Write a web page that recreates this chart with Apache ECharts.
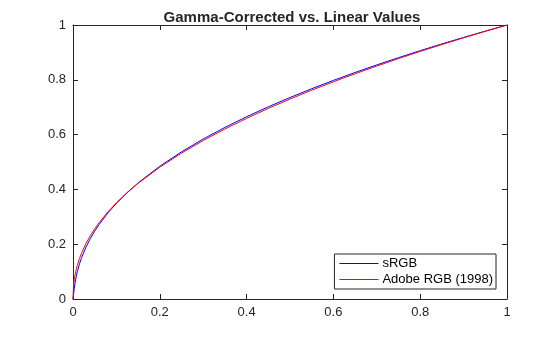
<!DOCTYPE html>
<html>
<head>
<meta charset="utf-8">
<script src="https://cdn.jsdelivr.net/npm/echarts@6/dist/echarts.min.js"></script>
<style>
html,body{margin:0;padding:0;background:#fff;}
#chart{width:560px;height:337px;}
</style>
</head>
<body>
<div id="chart"></div>
<script>
// Linear input values
var linearValues = [0, 0.001, 0.002, 0.003, 0.005, 0.0075, 0.01, 0.015, 0.02, 0.03, 0.04, 0.05, 0.06, 0.08, 0.1, 0.125, 0.15, 0.2, 0.25, 0.3, 0.35, 0.4, 0.45, 0.5, 0.55, 0.6, 0.65, 0.7, 0.75, 0.8, 0.85, 0.9, 0.95, 1];
// Gamma-corrected output, sRGB
var srgbValues = [0, 0.0129, 0.0258, 0.0388, 0.0611, 0.0824, 0.0999, 0.1284, 0.1517, 0.1897, 0.2209, 0.2478, 0.2717, 0.3133, 0.3492, 0.3886, 0.4236, 0.4845, 0.5371, 0.5838, 0.6262, 0.6652, 0.7014, 0.7354, 0.7674, 0.7978, 0.8267, 0.8543, 0.8808, 0.9063, 0.9309, 0.9546, 0.9777, 1];
// Gamma-corrected output, Adobe RGB (1998)
var adobeValues = [0, 0.0433, 0.0593, 0.0713, 0.0900, 0.1082, 0.1233, 0.1482, 0.1690, 0.2031, 0.2315, 0.2562, 0.2784, 0.3173, 0.3511, 0.3886, 0.4222, 0.4812, 0.5325, 0.5785, 0.6205, 0.6594, 0.6956, 0.7297, 0.7621, 0.7928, 0.8222, 0.8503, 0.8774, 0.9036, 0.9288, 0.9532, 0.9770, 1];
var xTicks = [0, 0.2, 0.4, 0.6, 0.8, 1];
var yTicks = [0, 0.2, 0.4, 0.6, 0.8, 1];

function pairs(xs, ys) {
  return xs.map(function (x, i) { return [x, ys[i]]; });
}
function tickLabel(v) {
  return String(Math.round(v * 10) / 10);
}

var font = 'Liberation Sans, Arial, Helvetica, sans-serif';
var axisLineStyle = { color: '#262626', width: 1 };

function mainAxis(pos, ticks) {
  return {
    type: 'value', position: pos, min: ticks[0], max: ticks[ticks.length - 1], interval: 0.2,
    axisLine: { show: true, onZero: false, lineStyle: axisLineStyle },
    axisTick: { show: true, inside: true, length: 5, lineStyle: axisLineStyle },
    axisLabel: { show: true, color: '#262626', fontSize: 13, fontFamily: font, margin: 7, formatter: tickLabel },
    splitLine: { show: false }
  };
}
function mirrorAxis(pos) {
  return {
    type: 'value', position: pos, min: 0, max: 1, interval: 0.2,
    axisLine: { show: true, onZero: false, lineStyle: axisLineStyle },
    axisTick: { show: true, inside: true, length: 5, lineStyle: axisLineStyle },
    axisLabel: { show: false },
    splitLine: { show: false }
  };
}

var chart = echarts.init(document.getElementById('chart'), null, { renderer: 'canvas' });
chart.setOption({
  animation: false,
  backgroundColor: '#ffffff',
  title: {
    text: 'Gamma-Corrected vs. Linear Values',
    left: 287, top: 5, textAlign: 'center',
    textStyle: { fontFamily: font, fontSize: 15, fontWeight: 'bold', color: '#262626' }
  },
  grid: { left: 73, right: 53, top: 25, bottom: 38, containLabel: false },
  xAxis: [mainAxis('bottom', xTicks), mirrorAxis('top')],
  yAxis: [mainAxis('left', yTicks), mirrorAxis('right')],
  legend: {
    orient: 'vertical',
    right: 64, bottom: 48,
    backgroundColor: '#ffffff',
    borderColor: '#262626', borderWidth: 1, borderRadius: 0,
    padding: [2, 3, 2, 5],
    itemGap: 1,
    itemWidth: 39, itemHeight: 1,
    icon: 'rect',
    textStyle: { fontFamily: font, fontSize: 13, color: '#000', padding: [0, 0, 0, -1], lineHeight: 15 },
    data: ['sRGB', 'Adobe RGB (1998)']
  },
  series: [
    {
      name: 'sRGB', type: 'line', xAxisIndex: 0, yAxisIndex: 0,
      data: pairs(linearValues, srgbValues),
      smooth: false, showSymbol: false, symbol: 'none',
      lineStyle: { color: '#0000ff', width: 1 }, itemStyle: { color: '#0000ff' }
    },
    {
      name: 'Adobe RGB (1998)', type: 'line', xAxisIndex: 0, yAxisIndex: 0,
      data: pairs(linearValues, adobeValues),
      smooth: false, showSymbol: false, symbol: 'none',
      lineStyle: { color: '#ff0000', width: 1 }, itemStyle: { color: '#ff0000' }
    }
  ]
});
</script>
</body>
</html>
